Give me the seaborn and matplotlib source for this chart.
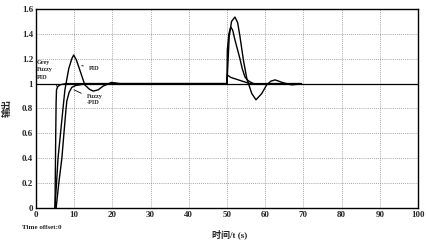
import numpy as np
import pandas as pd
import seaborn as sns
import matplotlib
matplotlib.use("Agg")
import matplotlib.pyplot as plt

# Data (time in s, output)
pid_t = [5.0, 5.8, 7.1, 7.6, 8.6, 9.4, 9.9, 10.6, 11.5, 12.8, 14.0, 15.0, 16.3, 17.6, 19.8, 22.0, 25.0, 50.0,
         50.6, 51.2, 52.1, 52.8, 53.4, 54.3, 55.2, 56.5, 57.6, 59.1, 60.4, 61.5, 62.6, 64.7, 66.9, 68.6, 69.5]
pid_y = [0.0, 0.40, 0.80, 0.95, 1.12, 1.20, 1.23, 1.19, 1.11, 0.99, 0.955, 0.94, 0.95, 0.98, 1.01, 1.0, 1.0, 1.0,
         1.38, 1.50, 1.535, 1.49, 1.38, 1.19, 1.04, 0.92, 0.87, 0.92, 0.99, 1.02, 1.03, 1.007, 0.99, 0.995, 1.0]

fuzzy_t = [5.3, 6.0, 6.8, 7.4, 7.9, 8.1, 8.7, 9.4, 10.4, 11.5, 13.0, 16.0, 20.0, 25.0, 50.0,
           50.1, 50.5, 51.0, 51.5, 52.1, 52.8, 53.4, 54.0, 54.7, 55.3, 56.0, 57.0, 58.0, 60.0, 69.5]
fuzzy_y = [0.0, 0.20, 0.40, 0.62, 0.80, 0.86, 0.93, 0.97, 0.985, 0.99, 1.0, 1.0, 1.0, 1.0, 1.0,
           1.27, 1.40, 1.455, 1.43, 1.35, 1.27, 1.20, 1.12, 1.055, 1.03, 1.015, 1.0, 0.995, 1.0, 1.0]

grey_t = [5.0, 5.1, 5.2, 5.3, 5.4, 5.7, 6.3, 7.0, 8.0, 10.0, 15.0, 20.0, 25.0, 50.0,
          50.05, 51.0, 52.0, 53.0, 54.0, 55.0, 56.0, 58.0, 62.0, 69.5]
grey_y = [0.0, 0.30, 0.60, 0.85, 0.95, 0.975, 0.99, 0.995, 1.0, 1.0, 1.0, 1.0, 1.0, 1.0,
          1.07, 1.05, 1.04, 1.03, 1.02, 1.01, 1.0, 1.0, 1.0, 1.0]

x_ticks = [0, 10, 20, 30, 40, 50, 60, 70, 80, 90, 100]
y_ticks = [0, 0.2, 0.4, 0.6, 0.8, 1.0, 1.2, 1.4, 1.6]
y_tick_labels = ["0", "0.2", "0.4", "0.6", "0.8", "1", "1.2", "1.4", "1.6"]
setpoint = 1.0

df = pd.concat([
    pd.DataFrame({"t": pid_t, "y": pid_y, "s": "PID"}),
    pd.DataFrame({"t": fuzzy_t, "y": fuzzy_y, "s": "Fuzzy-PID"}),
    pd.DataFrame({"t": grey_t, "y": grey_y, "s": "Grey Fuzzy PID"}),
])

sns.set_style("white")
fam = ["Liberation Serif", "Noto Sans CJK SC", "DejaVu Sans"]
plt.rcParams["font.family"] = fam

fig = plt.figure(figsize=(4.27, 2.43), dpi=100)
ax = fig.add_axes([0.084, 0.144, 0.895, 0.819])

ax.axhline(setpoint, color="black", lw=0.9, zorder=2)
sns.lineplot(data=df, x="t", y="y", hue="s", units="s", estimator=None, sort=False,
             palette={"PID": "black", "Fuzzy-PID": "black", "Grey Fuzzy PID": "black"},
             lw=1.0, legend=False, ax=ax)

ax.set_xlim(0, 100)
ax.set_ylim(0, 1.6)
ax.set_xticks(x_ticks)
ax.set_yticks(y_ticks)
ax.set_yticklabels(y_tick_labels)
ax.tick_params(labelsize=6.5, direction="in", length=2, width=0.6, pad=2)
for lab in ax.get_xticklabels() + ax.get_yticklabels():
    lab.set_fontweight("bold")
ax.grid(True, linestyle=(0, (1, 1.5)), color="#888888", lw=0.6)
for sp in ax.spines.values():
    sp.set_color("black")
    sp.set_linewidth(1.0)

ax.set_xlabel("时间/t (s)", fontsize=6.5, fontweight="bold")
ax.xaxis.set_label_coords(0.508, -0.105)
ax.set_ylabel("输出", fontsize=6.5, fontweight="bold", labelpad=7)
fig.text(0.052, 0.062, "Time offset:0", fontsize=5, family=fam, fontweight="bold", va="center")

ann = dict(arrowstyle="-", color="black", lw=0.6)
ax.annotate("Grey\nFuzzy\nPID", xy=(5.6, 0.975), xytext=(0.2, 1.03), fontsize=4.5,
            linespacing=1.6, ha="left", va="bottom", arrowprops=ann, fontweight="bold")
ax.annotate("PID", xy=(11.3, 1.15), xytext=(14.0, 1.12), fontsize=4.5,
            ha="left", va="center", arrowprops=ann, fontweight="bold")
ax.annotate("Fuzzy\n-PID", xy=(9.3, 0.96), xytext=(13.4, 0.87), fontsize=4.5,
            linespacing=1.3, ha="left", va="center", arrowprops=ann, fontweight="bold")

fig.savefig("out.png", dpi=100)
